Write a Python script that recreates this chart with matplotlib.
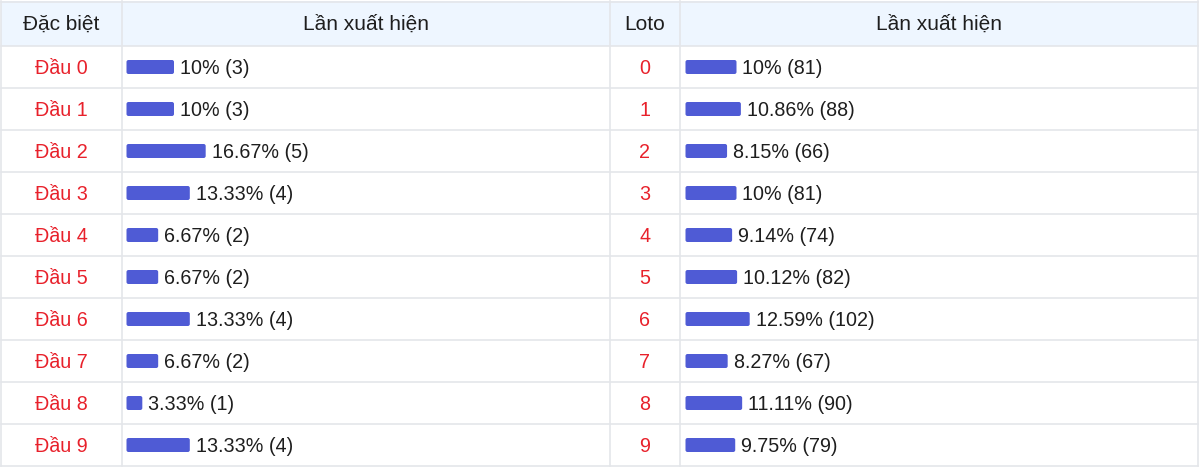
import matplotlib.pyplot as plt
from matplotlib.patches import Rectangle, FancyBboxPatch

plt.rcParams['font.family'] = ['Liberation Sans', 'DejaVu Sans']

heads = ['Đầu 0', 'Đầu 1', 'Đầu 2', 'Đầu 3', 'Đầu 4',
         'Đầu 5', 'Đầu 6', 'Đầu 7', 'Đầu 8', 'Đầu 9']
db_pct = [10, 10, 16.67, 13.33, 6.67, 6.67, 13.33, 6.67, 3.33, 13.33]
db_cnt = [3, 3, 5, 4, 2, 2, 4, 2, 1, 4]
loto = ['0', '1', '2', '3', '4', '5', '6', '7', '8', '9']
loto_pct = [10, 10.86, 8.15, 10, 9.14, 10.12, 12.59, 8.27, 11.11, 9.75]
loto_cnt = [81, 88, 66, 81, 74, 82, 102, 67, 90, 79]
headers = ['Đặc biệt', 'Lần xuất hiện', 'Loto', 'Lần xuất hiện']

W, H = 1200, 467
col_x = [1, 122, 610, 680, 1198]
head_h = 46
row_h = 42
red = '#E8212B'
blue = '#4F5BD5'
grid = '#E4E6EA'
txt = '#1E1E1E'


def fmt(p):
    return ('%.2f' % p).rstrip('0').rstrip('.') + '%'


fig = plt.figure(figsize=(W / 100, H / 100), dpi=100)
ax = fig.add_axes([0, 0, 1, 1])
ax.set_xlim(0, W)
ax.set_ylim(H, 0)
ax.axis('off')

# header background
ax.add_patch(Rectangle((col_x[0], 1), col_x[-1] - col_x[0], head_h - 1,
                       facecolor='#EEF6FF', edgecolor='none', zorder=0))

# grid lines
n = len(heads)
for i in range(n + 1):
    y = head_h + i * row_h
    ax.plot([col_x[0], col_x[-1]], [y, y], color=grid, lw=1.2, zorder=1)
ax.plot([col_x[0], col_x[-1]], [1.5, 1.5], color=grid, lw=1.2, zorder=1)
bottom = head_h + n * row_h
for x in col_x:
    ax.plot([x, x], [1, bottom], color=grid, lw=1.2, zorder=1)

fs = 14.2
dy = 1.5
for j, h in enumerate(headers):
    cx = (col_x[j] + col_x[j + 1]) / 2
    ax.text(cx, head_h / 2 + dy, h, ha='center', va='center', fontsize=15, color=txt)

ys = [head_h + row_h * i + row_h / 2 for i in range(n)]


def draw_bars(x0, widths):
    bars = ax.barh(ys, widths, left=x0, height=14, color='none', edgecolor='none')
    for b in bars:
        ax.add_patch(FancyBboxPatch((b.get_x() + 2, b.get_y() + 2),
                                    b.get_width() - 4, b.get_height() - 4,
                                    boxstyle='round,pad=2', facecolor=blue,
                                    edgecolor='none', zorder=2))


# left table: Đặc biệt
for y, h in zip(ys, heads):
    ax.text((col_x[0] + col_x[1]) / 2, y + dy, h, ha='center', va='center',
            fontsize=fs, color=red)
db_x0 = 126.5
db_w = [p * 4.75 for p in db_pct]
draw_bars(db_x0, db_w)
for y, w, p, c in zip(ys, db_w, db_pct, db_cnt):
    ax.text(db_x0 + w + 6, y + dy, '%s (%d)' % (fmt(p), c), ha='left',
            va='center', fontsize=fs, color=txt)

# right table: Loto
for y, l in zip(ys, loto):
    ax.text((col_x[2] + col_x[3]) / 2, y + dy, l, ha='center', va='center',
            fontsize=fs, color=red)
lo_x0 = 685.5
lo_w = [p * 5.1 for p in loto_pct]
draw_bars(lo_x0, lo_w)
for y, w, p, c in zip(ys, lo_w, loto_pct, loto_cnt):
    ax.text(lo_x0 + w + 6, y + dy, '%s (%d)' % (fmt(p), c), ha='left',
            va='center', fontsize=fs, color=txt)

fig.savefig('out.png', dpi=100)
